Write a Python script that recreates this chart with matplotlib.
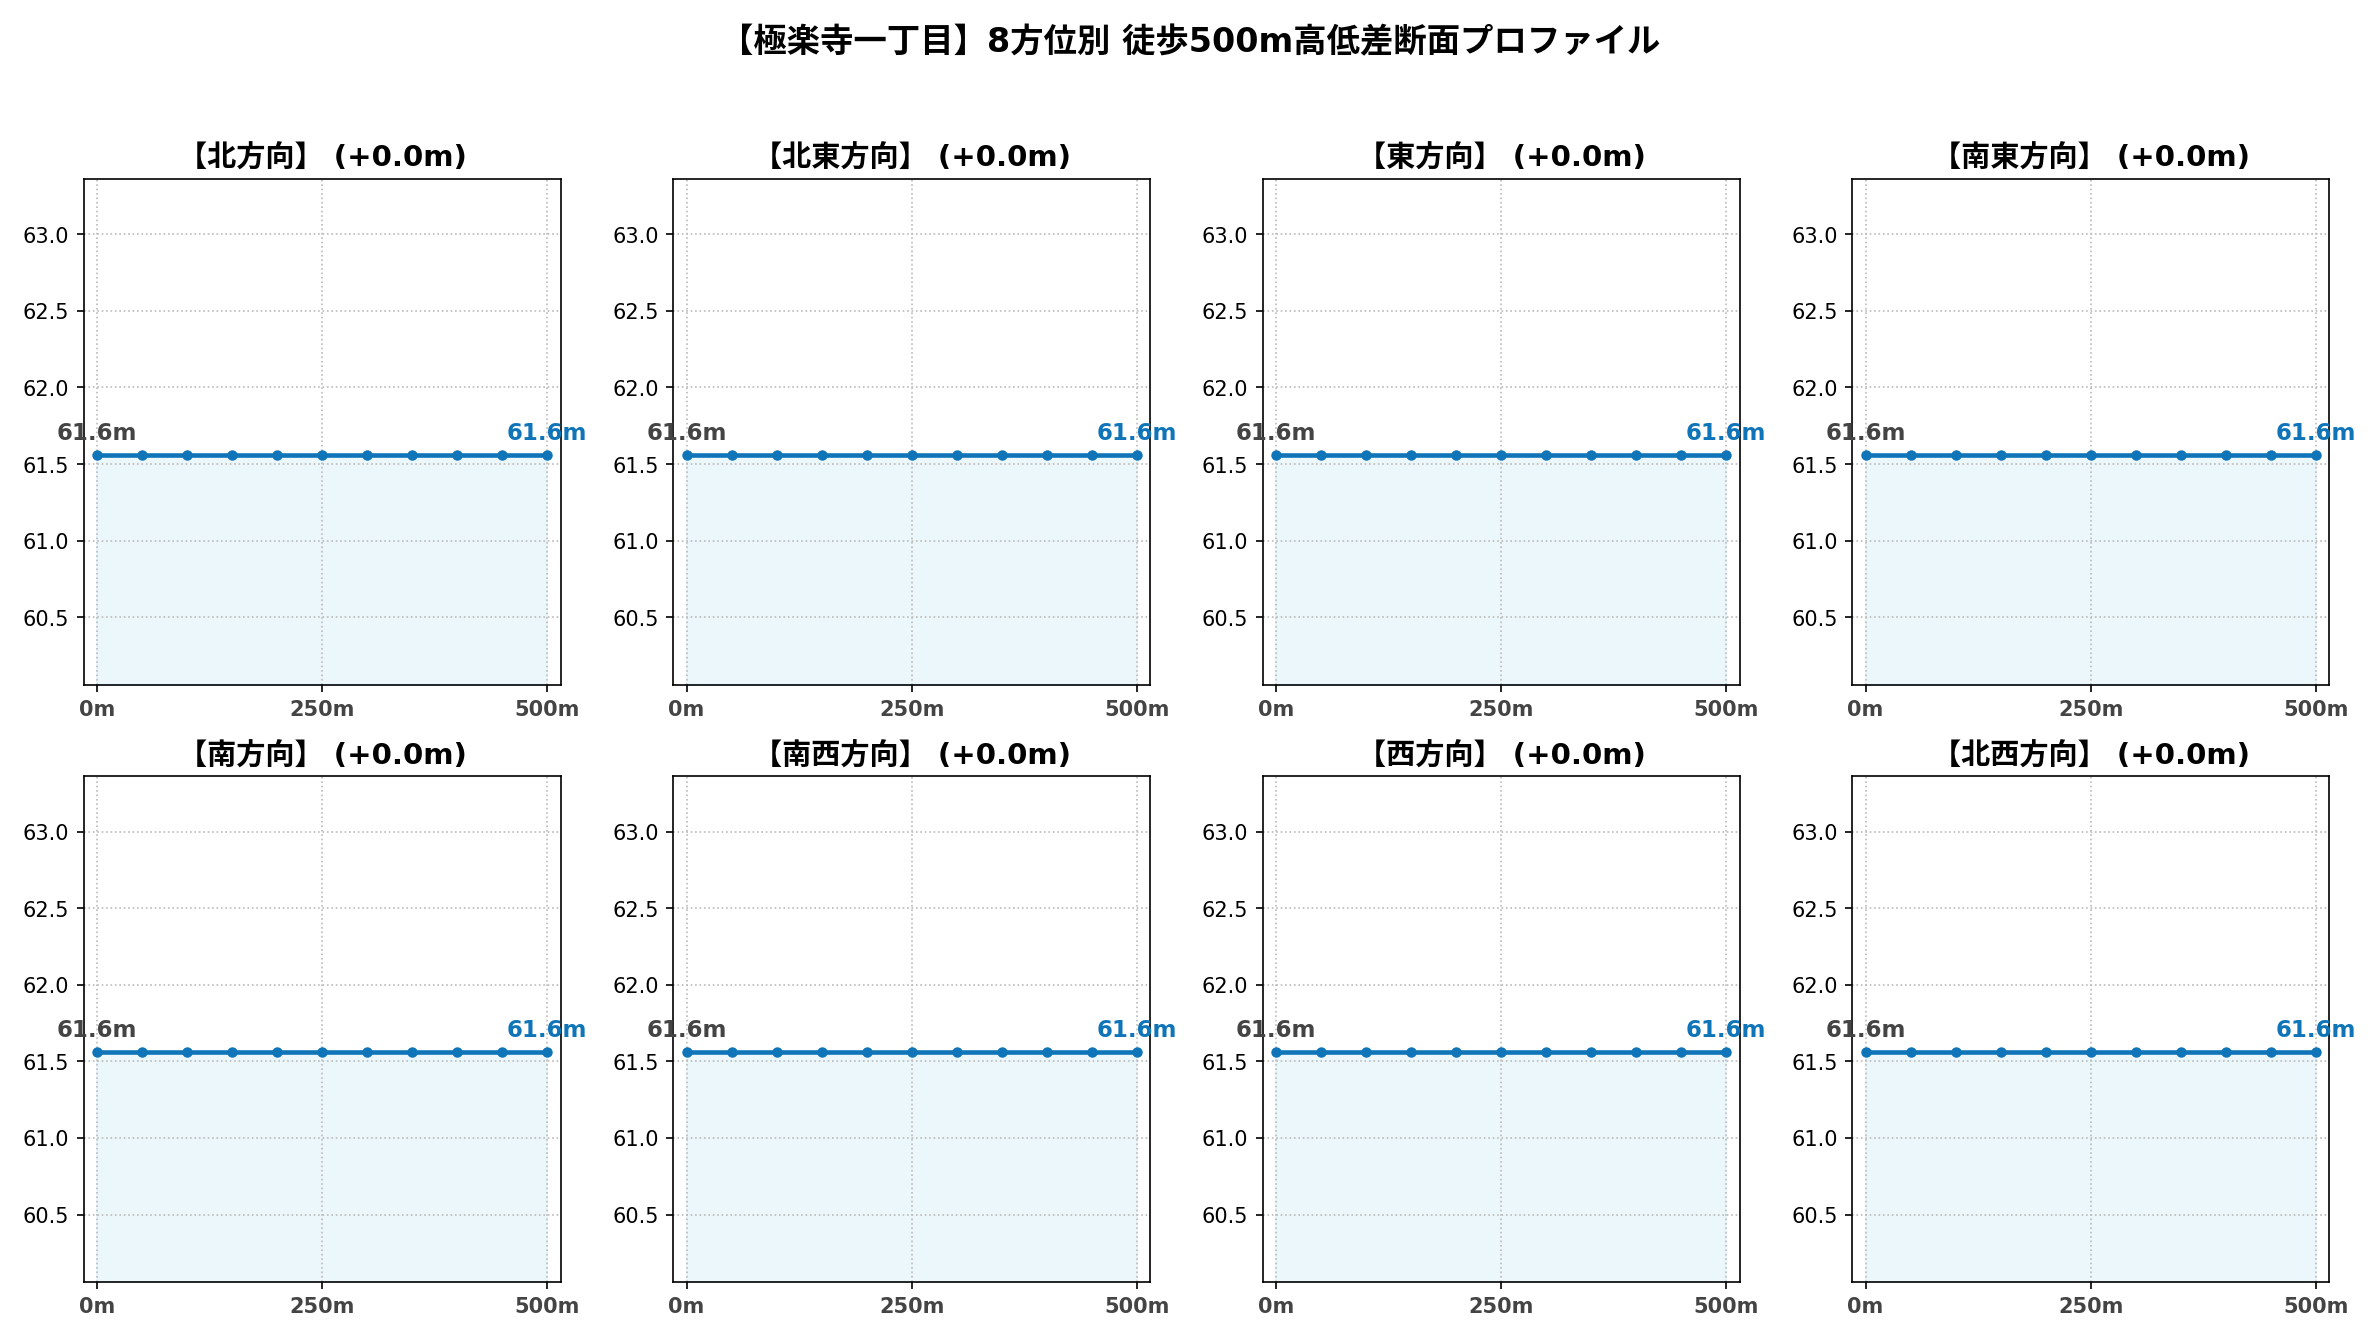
import matplotlib
matplotlib.use('Agg')
import matplotlib.pyplot as plt
import numpy as np

plt.rcParams['font.family'] = ['DejaVu Sans', 'Noto Sans CJK JP']

directions = ['北方向', '北東方向', '東方向', '南東方向', '南方向', '南西方向', '西方向', '北西方向']
distances = [0, 50, 100, 150, 200, 250, 300, 350, 400, 450, 500]
# elevation along each direction (flat)
elevations = {d: [61.56] * 11 for d in directions}

fig, axes = plt.subplots(2, 4, figsize=(15.87, 8.93), dpi=150)
fig.suptitle('【極楽寺一丁目】8方位別 徒歩500m高低差断面プロファイル', fontsize=16, fontweight='bold')

for ax, d in zip(axes.flat, directions):
    y = elevations[d]
    diff = y[-1] - y[0]
    lo, hi = min(y) - 1.5, max(y) + 1.8
    ax.fill_between(distances, y, lo, color='#e6f5fb', alpha=0.8)
    ax.plot(distances, y, color='#0f75b8', lw=2.2, marker='o', ms=4)
    ax.set_ylim(lo, hi)
    ax.set_xlim(-15, 515)
    ax.set_title(f'【{d}】 (+{diff:.1f}m)', fontsize=14, fontweight='bold')
    ax.set_xticks([0, 250, 500])
    ax.set_xticklabels(['0m', '250m', '500m'], fontweight='bold', color='#444444')
    ax.grid(True, linestyle=':', color='#bbbbbb')
    ax.text(distances[0], y[0] + 0.07, f'{y[0]:.1f}m', ha='center', va='bottom',
            fontweight='bold', color='#444444', fontsize=11)
    ax.text(distances[-1], y[-1] + 0.07, f'{y[-1]:.1f}m', ha='center', va='bottom',
            fontweight='bold', color='#0f75b8', fontsize=11)

plt.tight_layout(rect=[0, 0, 1, 0.95])
plt.savefig('out.png')
